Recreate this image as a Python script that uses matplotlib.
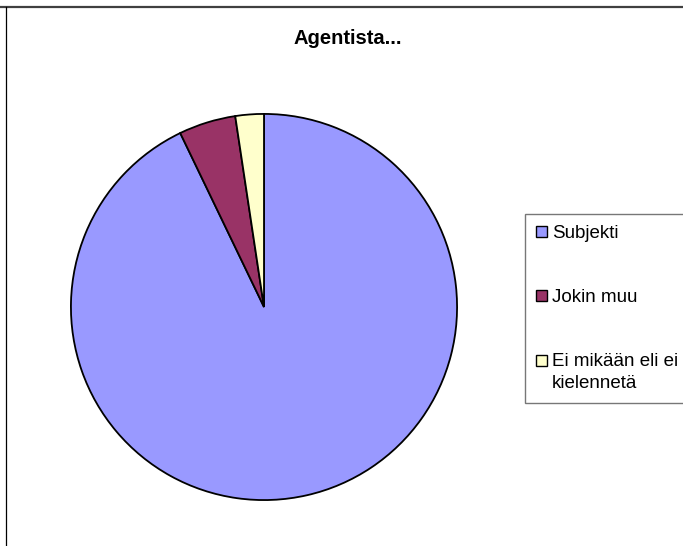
import matplotlib
matplotlib.use("Agg")
from matplotlib import pyplot as plt
from matplotlib.lines import Line2D
from matplotlib.patches import Patch

plt.rcParams['font.family'] = ['Liberation Sans', 'DejaVu Sans']

# data
labels = ["Subjekti", "Jokin muu", "Ei mikään eli ei\nkielennetä"]
values = [39, 2, 1]
colors = ["#9999FF", "#993366", "#FFFFCC"]

W, H = 683, 546
fig = plt.figure(figsize=(W / 100, H / 100), dpi=100)

# pie area in pixels: center (264, 307), radius 195
ax = fig.add_axes([69 / W, (H - 502) / H, 390 / W, 390 / H])
ax.pie(values, colors=colors, startangle=90, counterclock=False,
       wedgeprops=dict(edgecolor="black", linewidth=1.3))
ax.set_xlim(-1.01, 1.01)
ax.set_ylim(-1.01, 1.01)
ax.set_aspect("equal")

fig.text(348 / W, 1 - 38 / H, "Agentista...", ha="center", va="center",
         fontsize=14.5, fontweight="bold")

handles = [Patch(facecolor=c, edgecolor="black", linewidth=1) for c in colors]
leg = fig.legend(handles, labels, loc="upper left",
                 bbox_to_anchor=(525 / W, 1 - 214 / H),
                 fontsize=13.5, frameon=True, fancybox=False,
                 handlelength=0.55, handleheight=0.55, handletextpad=0.3,
                 labelspacing=2.5, borderpad=0.6, borderaxespad=0)
leg.get_frame().set_edgecolor("#555555")
leg.get_frame().set_linewidth(1)
for t in leg.get_texts():
    t.set_linespacing(1.4)
# box of the two-line entry sits next to its first line, as in Excel
last = leg.legend_handles[2]
last.set_y(last.get_y() + 8.5)

# outer chart frame (top and left visible)
fig.add_artist(Line2D([0, 1], [1 - 7 / H, 1 - 7 / H], transform=fig.transFigure,
                      color="#404040", linewidth=1.6))
fig.add_artist(Line2D([6 / W, 6 / W], [0, 1 - 7 / H], transform=fig.transFigure,
                      color="black", linewidth=0.9))

fig.savefig("out.png", dpi=100)
